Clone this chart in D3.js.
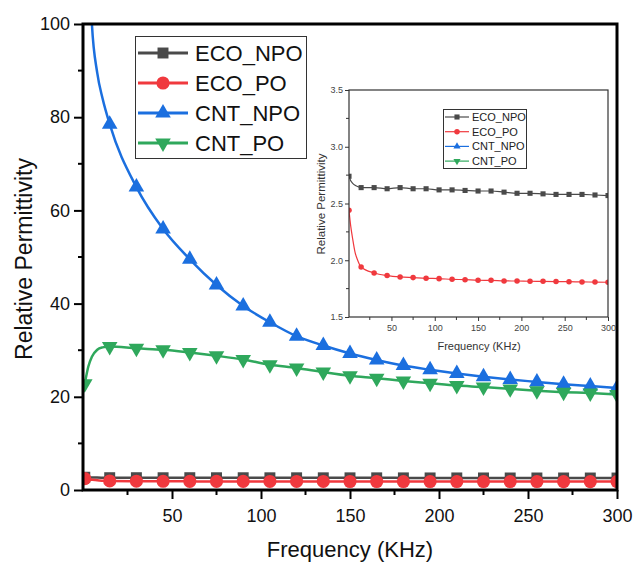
<!DOCTYPE html>
<html>
<head>
<meta charset="utf-8">
<title>Relative Permittivity vs Frequency</title>
<script src="https://d3js.org/d3.v7.min.js"></script>
<style>
  body { margin: 0; background: #fff; }
  text { font-family: "Liberation Sans", Arial, sans-serif; }
</style>
</head>
<body>
<svg id="chart" width="634" height="563"></svg>
<script>
// frequency (kHz) of each measured point, and which ones carry a marker
var freq = [1, 3, 5, 8, 11, 15, 30, 45, 60, 75, 90, 105, 120, 135, 150, 165, 180, 195, 210, 225, 240, 255, 270, 285, 300];
var markerFreq = [1, 15, 30, 45, 60, 75, 90, 105, 120, 135, 150, 165, 180, 195, 210, 225, 240, 255, 270, 285, 300];

var ecoNpo = [2.74, 2.70, 2.68, 2.66, 2.65, 2.64, 2.64, 2.63, 2.64, 2.63, 2.63, 2.62, 2.62, 2.615, 2.61, 2.61, 2.60, 2.59, 2.59, 2.585, 2.58, 2.58, 2.58, 2.575, 2.57];
var ecoPo = [2.44, 2.30, 2.20, 2.07, 2.00, 1.94, 1.888, 1.865, 1.853, 1.847, 1.841, 1.838, 1.832, 1.829, 1.824, 1.823, 1.818, 1.817, 1.815, 1.814, 1.812, 1.811, 1.809, 1.808, 1.806];
var cntNpo = [180, 118, 100, 89.5, 84, 78.5, 65, 56, 49.5, 44, 39.5, 36, 33, 31, 29.3, 27.9, 26.7, 25.8, 25, 24.3, 23.7, 23.2, 22.7, 22.3, 21.9];
var cntPo = [22.8, 26.5, 28.6, 30.1, 30.6, 30.8, 30.4, 30.1, 29.5, 28.8, 28.0, 26.9, 26.2, 25.3, 24.5, 24.0, 23.4, 22.9, 22.4, 22.1, 21.7, 21.3, 21.0, 20.8, 20.5];

var seriesNames = ['ECO_NPO', 'ECO_PO', 'CNT_NPO', 'CNT_PO'];
var seriesValues = [ecoNpo, ecoPo, cntNpo, cntPo];
var seriesColors = ['#4a4a4a', '#f0393e', '#1b6fdf', '#2fa85c'];
var seriesSymbols = ['square', 'circle', 'up', 'down'];

var xMajor = [50, 100, 150, 200, 250, 300];
var xMinor = [25, 75, 125, 175, 225, 275];
var yMajor = [0, 20, 40, 60, 80, 100];
var yMinor = [10, 30, 50, 70, 90];

var insetSeries = [0, 1];  // only the ECO samples show up in the zoomed view
var insetYMajor = [1.5, 2.0, 2.5, 3.0, 3.5];
var insetYMinor = [1.75, 2.25, 2.75, 3.25];

var svg = d3.select('#chart');

function symbolPath(kind, size) {
  var type = kind === 'square' ? d3.symbolSquare : kind === 'circle' ? d3.symbolCircle : d3.symbolTriangle;
  return d3.symbol().type(type).size(size)();
}

function rows(values) {
  return freq.map(function(f, i) { return { f: f, v: values[i] }; });
}

// ---------------- main chart ----------------
var x = d3.scaleLinear().domain([0, 300]).range([83, 617]);
var y = d3.scaleLinear().domain([0, 100]).range([490, 24]);

svg.append('clipPath').attr('id', 'mainClip')
  .append('rect').attr('x', 83).attr('y', 24).attr('width', 534).attr('height', 466);

var mainMarkSize = { square: 120, circle: 135, up: 105, down: 105 };

var plot = svg.append('g').attr('clip-path', 'url(#mainClip)');
seriesValues.forEach(function(vals, s) {
  var data = rows(vals);
  var line = d3.line()
    .x(function(d) { return x(d.f); })
    .y(function(d) { return y(d.v); })
    .curve(d3.curveMonotoneX);

  plot.append('path')
    .datum(data)
    .attr('d', line)
    .attr('fill', 'none')
    .attr('stroke', seriesColors[s])
    .attr('stroke-width', 2.5);

  plot.selectAll('.m' + s)
    .data(data.filter(function(d) { return markerFreq.indexOf(d.f) >= 0; }))
    .enter().append('path')
      .attr('class', 'm' + s)
      .attr('d', symbolPath(seriesSymbols[s], mainMarkSize[seriesSymbols[s]]))
      .attr('transform', function(d) {
        return 'translate(' + x(d.f) + ',' + y(d.v) + ')' + (seriesSymbols[s] === 'down' ? ' rotate(180)' : '');
      })
      .attr('fill', seriesColors[s]);
});

// axes: ticks outward, frame drawn separately
var xAxis = svg.append('g').attr('transform', 'translate(0,490)')
  .call(d3.axisBottom(x).tickValues(xMajor).tickSize(9).tickSizeOuter(0).tickPadding(10));
xAxis.append('g').selectAll('line').data(xMinor).enter().append('line')
  .attr('x1', function(d) { return x(d); }).attr('x2', function(d) { return x(d); })
  .attr('y1', 0).attr('y2', 5).attr('stroke', '#000').attr('stroke-width', 2);

var yAxis = svg.append('g').attr('transform', 'translate(83,0)')
  .call(d3.axisLeft(y).tickValues(yMajor).tickSize(9).tickSizeOuter(0).tickPadding(4));
yAxis.append('g').selectAll('line').data(yMinor).enter().append('line')
  .attr('y1', function(d) { return y(d); }).attr('y2', function(d) { return y(d); })
  .attr('x1', 0).attr('x2', -5).attr('stroke', '#000').attr('stroke-width', 2);

[xAxis, yAxis].forEach(function(a) {
  a.select('.domain').remove();
  a.selectAll('.tick line').attr('stroke', '#000').attr('stroke-width', 2);
  a.selectAll('.tick text').attr('font-size', 18).attr('fill', '#111')
    .style('font-family', '"Liberation Sans", Arial, sans-serif');
});

svg.append('rect')
  .attr('x', 83).attr('y', 24).attr('width', 534).attr('height', 466)
  .attr('fill', 'none').attr('stroke', '#000').attr('stroke-width', 3);

svg.append('text')
  .attr('x', 350).attr('y', 557)
  .attr('text-anchor', 'middle')
  .attr('font-size', 22)
  .attr('fill', '#111')
  .text('Frequency (KHz)');

svg.append('text')
  .attr('transform', 'translate(32,259) rotate(-90)')
  .attr('text-anchor', 'middle')
  .attr('font-size', 23)
  .attr('fill', '#111')
  .text('Relative Permittivity');

// main legend
var legend = svg.append('g');
legend.append('rect')
  .attr('x', 135.5).attr('y', 36.5).attr('width', 171).attr('height', 122)
  .attr('fill', '#fff').attr('stroke', '#333').attr('stroke-width', 1);

seriesNames.forEach(function(name, s) {
  var ly = 53 + s * 30;
  legend.append('line')
    .attr('x1', 138).attr('x2', 188).attr('y1', ly).attr('y2', ly)
    .attr('stroke', seriesColors[s]).attr('stroke-width', 3);
  legend.append('path')
    .attr('d', symbolPath(seriesSymbols[s], mainMarkSize[seriesSymbols[s]]))
    .attr('transform', 'translate(163,' + ly + ')' + (seriesSymbols[s] === 'down' ? ' rotate(180)' : ''))
    .attr('fill', seriesColors[s]);
  legend.append('text')
    .attr('x', 195).attr('y', ly + 8)
    .attr('font-size', 22).attr('fill', '#111')
    .text(name);
});

// ---------------- inset ----------------
var ix = d3.scaleLinear().domain([1, 300]).range([349, 608]);
var iy = d3.scaleLinear().domain([1.5, 3.5]).range([317, 90]);

var inset = svg.append('g');
inset.append('rect')
  .attr('x', 349).attr('y', 90).attr('width', 259).attr('height', 227)
  .attr('fill', '#fff');

svg.append('clipPath').attr('id', 'insetClip')
  .append('rect').attr('x', 349).attr('y', 90).attr('width', 259).attr('height', 227);

var insetPlot = inset.append('g').attr('clip-path', 'url(#insetClip)');
var insetMarkSize = { square: 26, circle: 24, up: 22, down: 22 };

insetSeries.forEach(function(s) {
  var data = rows(seriesValues[s]);
  var line = d3.line()
    .x(function(d) { return ix(d.f); })
    .y(function(d) { return iy(d.v); })
    .curve(d3.curveMonotoneX);
  insetPlot.append('path')
    .datum(data)
    .attr('d', line)
    .attr('fill', 'none')
    .attr('stroke', seriesColors[s])
    .attr('stroke-width', 1.2);
  insetPlot.selectAll('.im' + s)
    .data(data.filter(function(d) { return markerFreq.indexOf(d.f) >= 0; }))
    .enter().append('path')
      .attr('class', 'im' + s)
      .attr('d', symbolPath(seriesSymbols[s], insetMarkSize[seriesSymbols[s]]))
      .attr('transform', function(d) { return 'translate(' + ix(d.f) + ',' + iy(d.v) + ')'; })
      .attr('fill', seriesColors[s]);
});

var ixAxis = inset.append('g').attr('transform', 'translate(0,317)')
  .call(d3.axisBottom(ix).tickValues(xMajor).tickSize(4).tickSizeOuter(0).tickPadding(4));
ixAxis.append('g').selectAll('line').data(xMinor).enter().append('line')
  .attr('x1', function(d) { return ix(d); }).attr('x2', function(d) { return ix(d); })
  .attr('y1', 0).attr('y2', 3).attr('stroke', '#333');

var iyAxis = inset.append('g').attr('transform', 'translate(349,0)')
  .call(d3.axisLeft(iy).tickValues(insetYMajor).tickFormat(d3.format('.1f')).tickSize(4).tickSizeOuter(0).tickPadding(2));
iyAxis.append('g').selectAll('line').data(insetYMinor).enter().append('line')
  .attr('y1', function(d) { return iy(d); }).attr('y2', function(d) { return iy(d); })
  .attr('x1', 0).attr('x2', -3).attr('stroke', '#333');

[ixAxis, iyAxis].forEach(function(a) {
  a.select('.domain').remove();
  a.selectAll('.tick line').attr('stroke', '#333');
  a.selectAll('.tick text').attr('font-size', 9).attr('fill', '#444')
    .style('font-family', '"Liberation Sans", Arial, sans-serif');
});

inset.append('rect')
  .attr('x', 349).attr('y', 90).attr('width', 259).attr('height', 227)
  .attr('fill', 'none').attr('stroke', '#333').attr('stroke-width', 1.2);

inset.append('text')
  .attr('x', 479).attr('y', 350)
  .attr('text-anchor', 'middle')
  .attr('font-size', 11).attr('fill', '#333')
  .text('Frequency (KHz)');

inset.append('text')
  .attr('transform', 'translate(325,204) rotate(-90)')
  .attr('text-anchor', 'middle')
  .attr('font-size', 11.5).attr('fill', '#333')
  .text('Relative Permittivity');

// inset legend
var ileg = inset.append('g');
ileg.append('rect')
  .attr('x', 443.5).attr('y', 109.5).attr('width', 83).attr('height', 59)
  .attr('fill', '#fff').attr('stroke', '#333').attr('stroke-width', 1);

seriesNames.forEach(function(name, s) {
  var ly = 117 + s * 14.7;
  ileg.append('line')
    .attr('x1', 445).attr('x2', 469).attr('y1', ly).attr('y2', ly)
    .attr('stroke', seriesColors[s]).attr('stroke-width', 1.2);
  ileg.append('path')
    .attr('d', symbolPath(seriesSymbols[s], insetMarkSize[seriesSymbols[s]]))
    .attr('transform', 'translate(457,' + ly + ')' + (seriesSymbols[s] === 'down' ? ' rotate(180)' : ''))
    .attr('fill', seriesColors[s]);
  ileg.append('text')
    .attr('x', 472).attr('y', ly + 4)
    .attr('font-size', 11).attr('fill', '#222')
    .text(name);
});
</script>
</body>
</html>
